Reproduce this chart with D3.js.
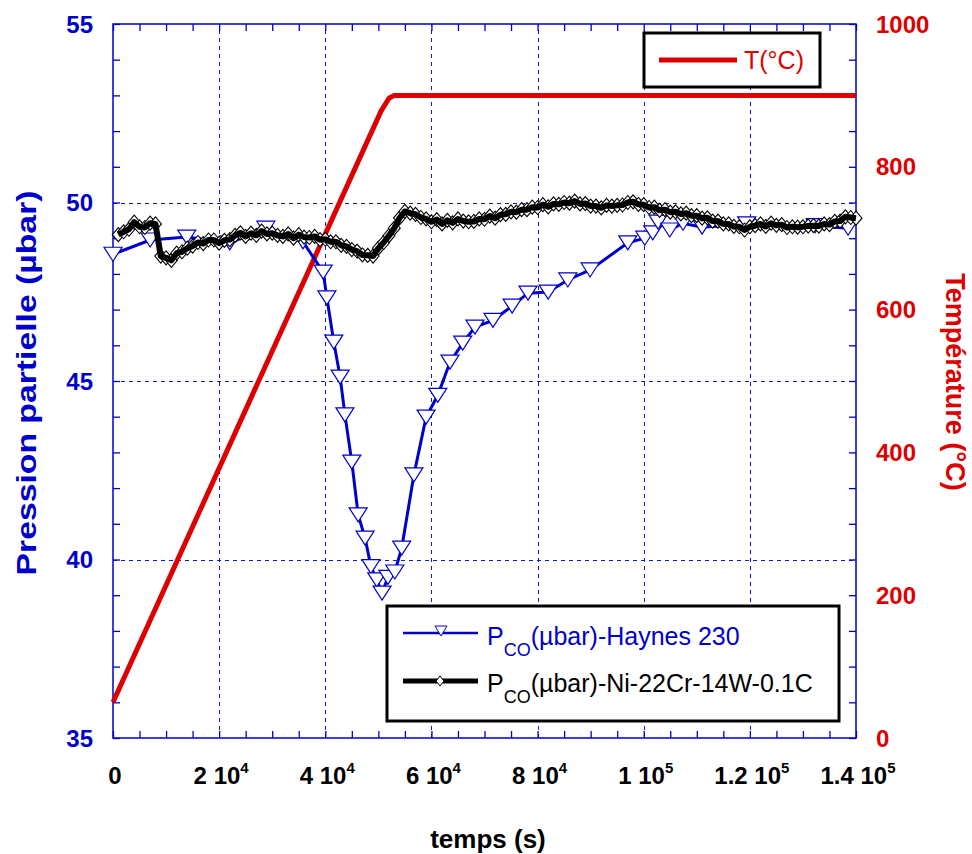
<!DOCTYPE html>
<html>
<head>
<meta charset="utf-8">
<script src="https://cdn.jsdelivr.net/npm/d3@7"></script>
<style>
  body { margin: 0; background: #fff; }
  svg { display: block; font-family: "Liberation Sans", Arial, sans-serif; }
</style>
</head>
<body>
<div id="chart"></div>
<script>
// axes
var xTicks = [0, 20000, 40000, 60000, 80000, 100000, 120000, 140000];
var xTickMant = ["0", "2 10", "4 10", "6 10", "8 10", "1 10", "1.2 10", "1.4 10"];
var xTickExp = ["", "4", "4", "4", "4", "5", "5", "5"];
var leftTicks = [35, 40, 45, 50, 55];
var rightTicks = [0, 200, 400, 600, 800, 1000];

// T(°C)
var tempTime = [0, 50500, 52000, 53000, 140000];
var tempValues = [50, 878, 896, 900, 900];

// Pco - Haynes 230
var haynesTime = [0, 7000, 13900, 22000, 28800, 35800, 39600, 40300, 41600, 42800, 43700, 45000,
  46200, 47500, 48600, 49700, 50700, 51800, 53100, 54400, 56700, 59000, 61200, 63500, 65900,
  68200, 71600, 75200, 78200, 82000, 85700, 89900, 97000, 100200, 101700, 102700, 104900,
  107400, 111000, 119400, 132300, 138500];
var haynesValues = [48.55, 48.95, 49.03, 48.87, 49.28, 48.9, 48.05, 47.33, 46.09, 45.11, 44.05, 42.73,
  41.25, 40.6, 39.8, 39.43, 39.06, 39.5, 39.65, 40.32, 42.37, 43.99, 44.6, 45.53, 46.06,
  46.51, 46.7, 47.1, 47.46, 47.49, 47.83, 48.11, 48.87, 49.0, 49.15, 49.45, 49.23,
  49.42, 49.31, 49.4, 49.35, 49.28];

// Pco - Ni-22Cr-14W-0.1C, one point every 1000 s
var niTime = d3.range(1000, 140001, 1000);
var niValues = [
  49.10, 49.18, 49.25, 49.45, 49.32, 49.30, 49.42, 49.40, 48.50, 48.45,
  48.38, 48.58, 48.62, 48.72, 48.78, 48.88, 48.85, 48.95, 48.95, 48.86,
  48.94, 48.96, 49.08, 49.15, 49.05, 49.14, 49.08, 49.20, 49.12, 49.14,
  49.08, 49.05, 49.12, 49.00, 49.10, 49.03, 49.02, 49.05, 48.96, 48.97,
  48.90, 48.90, 48.80, 48.77, 48.68, 48.64, 48.53, 48.52, 48.50, 48.72,
  48.88, 49.07, 49.28, 49.57, 49.75, 49.70, 49.67, 49.58, 49.54, 49.46,
  49.52, 49.40, 49.50, 49.43, 49.54, 49.48, 49.46, 49.47, 49.54, 49.53,
  49.62, 49.56, 49.66, 49.67, 49.74, 49.73, 49.80, 49.80, 49.87, 49.86,
  49.94, 49.88, 49.96, 49.95, 50.00, 49.98, 50.04, 49.96, 49.97, 49.90,
  49.90, 49.85, 49.92, 49.90, 49.92, 49.93, 50.00, 50.02, 49.95, 49.94,
  49.86, 49.87, 49.78, 49.80, 49.73, 49.74, 49.68, 49.70, 49.63, 49.63,
  49.56, 49.57, 49.48, 49.48, 49.40, 49.40, 49.33, 49.32, 49.23, 49.32,
  49.35, 49.40, 49.33, 49.42, 49.36, 49.38, 49.30, 49.32, 49.31, 49.32,
  49.34, 49.35, 49.34, 49.40, 49.38, 49.47, 49.48, 49.60, 49.58, 49.56];

var blue = "#0000cc", red = "#dd0000";
var width = 972, height = 854;
var plotL = 113, plotR = 856, plotT = 24, plotB = 738;

var svg = d3.select("#chart").append("svg")
    .attr("width", width)
    .attr("height", height);

var x = d3.scaleLinear().domain([0, 140000]).range([plotL, plotR]);
var yL = d3.scaleLinear().domain([35, 55]).range([plotB, plotT]);
var yR = d3.scaleLinear().domain([0, 1000]).range([plotB, plotT]);

// grid
var grid = svg.append("g");
grid.append("g")
    .attr("transform", "translate(0," + plotB + ")")
    .call(d3.axisBottom(x).tickValues(xTicks.slice(1, -1)).tickSize(-(plotB - plotT)).tickFormat(""));
grid.append("g")
    .attr("transform", "translate(" + plotL + ",0)")
    .call(d3.axisLeft(yL).tickValues([40, 45, 50]).tickSize(-(plotR - plotL)).tickFormat(""));
grid.selectAll(".domain").remove();
grid.selectAll("line")
    .attr("stroke", "#1414e6")
    .attr("stroke-width", 1)
    .attr("stroke-dasharray", "4,4")
    .attr("shape-rendering", "crispEdges");

// minor ticks, inward
function ticks(axis, tx, ty) {
    var g = svg.append("g")
        .attr("transform", "translate(" + tx + "," + ty + ")")
        .call(axis.tickSize(-7).tickFormat(""));
    g.select(".domain").remove();
    g.selectAll("line").attr("stroke", blue).attr("stroke-width", 1.3);
}
ticks(d3.axisLeft(yL).tickValues(d3.range(35, 56, 1)), plotL, 0);
ticks(d3.axisRight(yR).tickValues(d3.range(0, 1001, 50)), plotR, 0);
ticks(d3.axisTop(x).tickValues(d3.range(0, 140001, 5000)), 0, plotT);
ticks(d3.axisBottom(x).tickValues(d3.range(0, 140001, 5000)), 0, plotB);

// frame
svg.append("rect")
    .attr("x", plotL).attr("y", plotT)
    .attr("width", plotR - plotL).attr("height", plotB - plotT)
    .attr("fill", "none")
    .attr("stroke", blue)
    .attr("stroke-width", 1.5);

// tick labels
svg.append("g").selectAll("text")
    .data(leftTicks).enter().append("text")
    .attr("x", 93)
    .attr("y", function(d){ return yL(d); })
    .attr("dy", "0.36em")
    .attr("text-anchor", "end")
    .attr("fill", blue)
    .style("font-weight", "bold")
    .style("font-size", "24px")
    .text(function(d){ return d; });

svg.append("g").selectAll("text")
    .data(rightTicks).enter().append("text")
    .attr("x", 876)
    .attr("y", function(d){ return yR(d); })
    .attr("dy", "0.36em")
    .attr("fill", red)
    .style("font-weight", "bold")
    .style("font-size", "24px")
    .text(function(d){ return d; });

var xl = svg.append("g").selectAll("text")
    .data(xTicks).enter().append("text")
    .attr("x", function(d){ return x(d) + 2; })
    .attr("y", 784)
    .attr("text-anchor", "middle")
    .style("font-weight", "bold")
    .style("font-size", "24px");
xl.append("tspan").text(function(d, i){ return xTickMant[i]; });
xl.append("tspan")
    .attr("dy", -11)
    .style("font-size", "15px")
    .text(function(d, i){ return xTickExp[i]; });

// axis titles
svg.append("text")
    .attr("transform", "translate(36,383) rotate(-90)")
    .attr("text-anchor", "middle")
    .attr("fill", blue)
    .attr("textLength", 385)
    .attr("lengthAdjust", "spacingAndGlyphs")
    .style("font-weight", "bold")
    .style("font-size", "28px")
    .text("Pression partielle (µbar)");

svg.append("text")
    .attr("transform", "translate(946,382) rotate(90)")
    .attr("text-anchor", "middle")
    .attr("fill", red)
    .style("font-weight", "bold")
    .style("font-size", "27px")
    .text("Température (°C)");

svg.append("text")
    .attr("x", 488)
    .attr("y", 848)
    .attr("text-anchor", "middle")
    .style("font-weight", "bold")
    .style("font-size", "26px")
    .text("temps (s)");

// temperature
var tempLine = d3.line()
    .x(function(d, i){ return x(tempTime[i]); })
    .y(function(d){ return yR(d); });
svg.append("path")
    .datum(tempValues)
    .attr("d", tempLine)
    .attr("fill", "none")
    .attr("stroke", red)
    .attr("stroke-width", 5)
    .attr("stroke-linejoin", "round");

// Haynes 230
var triPath = "M-9,-7L9,-7L0,7Z";
var hLine = d3.line()
    .x(function(d, i){ return x(haynesTime[i]); })
    .y(function(d){ return yL(d); });
svg.append("path")
    .datum(haynesValues)
    .attr("d", hLine)
    .attr("fill", "none")
    .attr("stroke", blue)
    .attr("stroke-width", 3);
svg.append("g").selectAll("path")
    .data(haynesValues).enter().append("path")
    .attr("d", triPath)
    .attr("transform", function(d, i){ return "translate(" + x(haynesTime[i]) + "," + yL(d) + ")"; })
    .attr("fill", "#fff")
    .attr("stroke", blue)
    .attr("stroke-width", 1.2);

// Ni-22Cr-14W-0.1C
var diaPath = "M0,-7L6,0L0,7L-6,0Z";
svg.append("g").selectAll("path")
    .data(niValues).enter().append("path")
    .attr("d", diaPath)
    .attr("transform", function(d, i){ return "translate(" + x(niTime[i]) + "," + yL(d) + ")"; })
    .attr("fill", "#fff")
    .attr("stroke", "#000")
    .attr("stroke-width", 1.1);
var nLine = d3.line()
    .x(function(d, i){ return x(niTime[i]); })
    .y(function(d){ return yL(d); });
svg.append("path")
    .datum(niValues)
    .attr("d", nLine)
    .attr("fill", "none")
    .attr("stroke", "#000")
    .attr("stroke-width", 6)
    .attr("stroke-linejoin", "round");

// legend T
var lg1 = svg.append("g");
lg1.append("rect")
    .attr("x", 644).attr("y", 33).attr("width", 176).attr("height", 54)
    .attr("fill", "#fff").attr("stroke", "#000").attr("stroke-width", 3);
lg1.append("line")
    .attr("x1", 659).attr("x2", 737).attr("y1", 60).attr("y2", 60)
    .attr("stroke", red).attr("stroke-width", 5);
lg1.append("text")
    .attr("x", 744).attr("y", 69)
    .attr("fill", red)
    .style("font-size", "25px")
    .text("T(°C)");

// legend Pco
var lg2 = svg.append("g");
lg2.append("rect")
    .attr("x", 387).attr("y", 606).attr("width", 452).attr("height", 115)
    .attr("fill", "#fff").attr("stroke", "#000").attr("stroke-width", 3);
lg2.append("line")
    .attr("x1", 403).attr("x2", 478).attr("y1", 633).attr("y2", 633)
    .attr("stroke", blue).attr("stroke-width", 2.5);
lg2.append("path")
    .attr("d", "M-6,-5L6,-5L0,5Z")
    .attr("transform", "translate(441,631)")
    .attr("fill", "#fff").attr("stroke", blue).attr("stroke-width", 1);
lg2.append("line")
    .attr("x1", 403).attr("x2", 478).attr("y1", 681).attr("y2", 681)
    .attr("stroke", "#000").attr("stroke-width", 5);
lg2.append("path")
    .attr("d", "M0,-5L4,0L0,5L-4,0Z")
    .attr("transform", "translate(440,681)")
    .attr("fill", "#fff").attr("stroke", "#000").attr("stroke-width", 1);

var legendRows = [
    {y: 645, color: blue, rest: "(µbar)-Haynes 230"},
    {y: 692, color: "#000", rest: "(µbar)-Ni-22Cr-14W-0.1C"}
];
legendRows.forEach(function(r){
    var t = lg2.append("text")
        .attr("x", 487).attr("y", r.y)
        .attr("fill", r.color)
        .style("font-size", "25px");
    t.append("tspan").text("P");
    t.append("tspan").attr("dy", 11).style("font-size", "18px").text("CO");
    t.append("tspan").attr("dy", -11).text(r.rest);
});
</script>
</body>
</html>
